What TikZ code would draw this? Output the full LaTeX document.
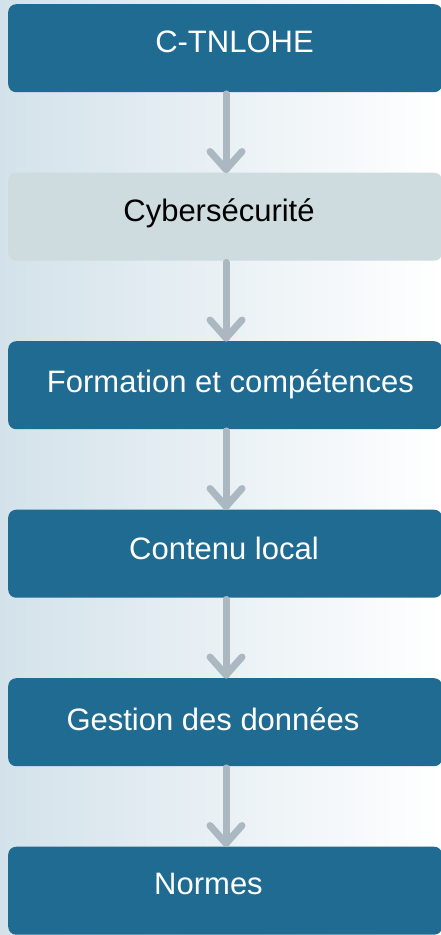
\documentclass[tikz,border=0pt]{standalone}
\usepackage{fontspec}
\setmainfont{Liberation Sans}
\definecolor{boxblue}{HTML}{1F6B91}
\definecolor{boxgrey}{HTML}{CEDCE0}
\definecolor{arrowgrey}{HTML}{ABB8C1}
\definecolor{bgleft}{HTML}{D3E2EA}
\begin{document}
\begin{tikzpicture}[x=1pt,y=-1pt,
  stagebox/.style={rectangle, rounded corners=8pt, minimum width=434pt, minimum height=88pt, inner sep=0pt, anchor=north west, draw=none},
  bluebox/.style={stagebox, fill=boxblue},
  greybox/.style={stagebox, fill=boxgrey},
  lbl/.style={anchor=base, inner sep=0pt, font=\fontsize{31}{37}\selectfont},
  whitelbl/.style={lbl, text=white},
  blacklbl/.style={lbl, text=black},
  flow/.style={draw=arrowgrey, line width=7pt, line cap=round, line join=round}
]
\useasboundingbox (0,0) rectangle (441,935);
\shade[left color=bgleft, right color=white] (0,0) rectangle (441,935);

\node[bluebox] (b1) at (8,4) {};
\node[greybox] (b2) at (8,172.5) {};
\node[bluebox] (b3) at (8,341) {};
\node[bluebox] (b4) at (8,509.5) {};
\node[bluebox] (b5) at (8,678) {};
\node[bluebox] (b6) at (8,846.5) {};

\node[whitelbl] (t1) at (234.5,52) {C-TNLOHE};
\node[blacklbl] (t2) at (219,221) {Cybersécurité};
\node[whitelbl] (t3) at (230.5,392) {Formation et compétences};
\node[whitelbl] (t4) at (224,559) {Contenu local};
\node[whitelbl] (t5) at (213,730) {Gestion des données};
\node[whitelbl] (t6) at (208.5,894) {Normes};

\foreach \a/\b in {b1/b2, b2/b3, b3/b4, b4/b5, b5/b6}{
  \coordinate (s) at ([yshift=-1.5pt]\a.south west);
  \coordinate (e) at ([yshift=3pt]\b.north west);
  \draw[flow] (226,0 |- s) -- (226,0 |- e);
  \draw[flow] ([shift={(-16,-18)}]226,0 |- e) -- (226,0 |- e) -- ([shift={(16,-18)}]226,0 |- e);
}
\end{tikzpicture}
\end{document}
